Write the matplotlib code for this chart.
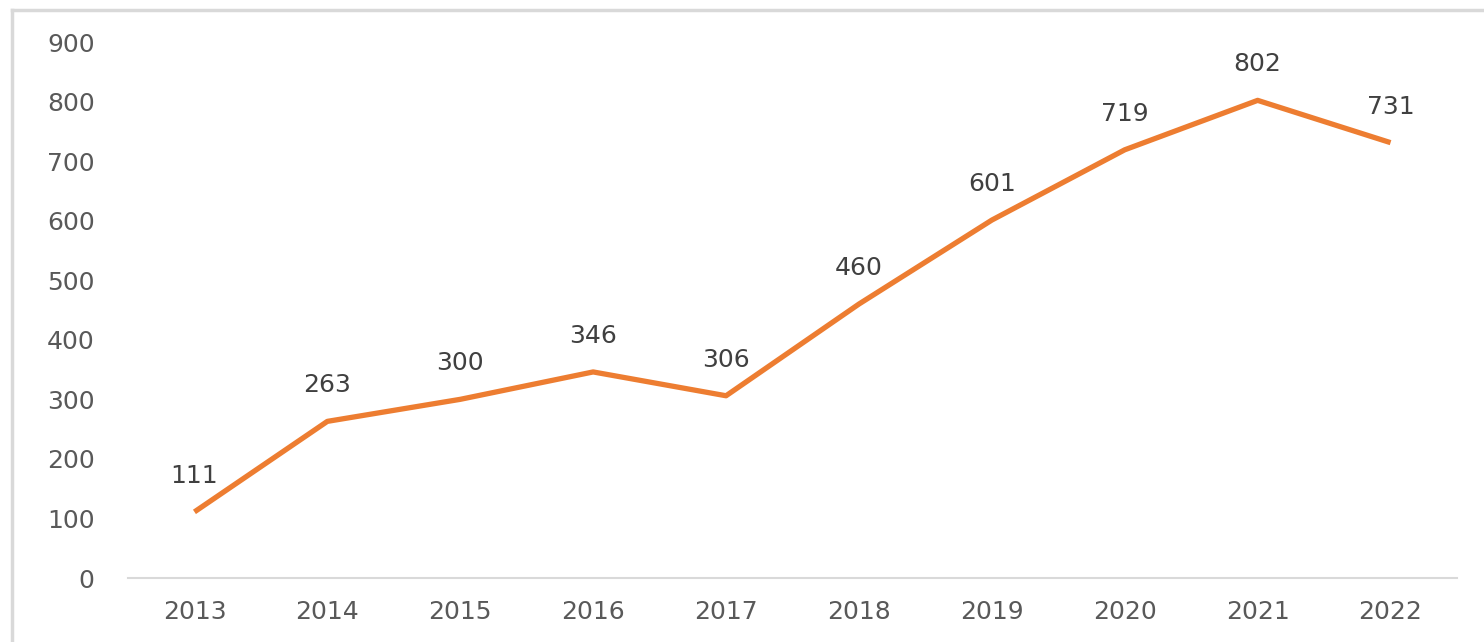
import matplotlib.pyplot as plt
from matplotlib.lines import Line2D

years = ['2013', '2014', '2015', '2016', '2017', '2018', '2019', '2020', '2021', '2022']
values = [111, 263, 300, 346, 306, 460, 601, 719, 802, 731]

plt.rcParams['font.family'] = ['DejaVu Sans']

fig = plt.figure(figsize=(14.84, 6.42), dpi=100)
ax = fig.add_axes([128/1484, 1-578/642, (1457-128)/1484, (578-42)/642])

x = list(range(len(years)))
ax.plot(x, values, color='#ED7D31', linewidth=3.8, solid_capstyle='butt')

for xi, v in zip(x, values):
    ax.annotate(str(v), (xi, v), xytext=(0, 26), textcoords='offset points',
                ha='center', va='center', fontsize=18, color='#404040')

ax.set_xlim(-0.5, len(years)-0.5)
ax.set_ylim(0, 900)
ax.set_yticks(range(0, 901, 100))
ax.set_xticks(x)
ax.set_xticklabels(years)
ax.tick_params(length=0, labelsize=18, labelcolor='#595959')
ax.tick_params(axis='y', pad=24)
ax.tick_params(axis='x', pad=16)
for s in ['top', 'right', 'left']:
    ax.spines[s].set_visible(False)
ax.spines['bottom'].set_color('#D9D9D9')
ax.spines['bottom'].set_linewidth(1.5)

# outer chart frame
fig.add_artist(Line2D([12/1484, 12/1484], [0, 1-10/642], color='#D9D9D9', linewidth=2.5, transform=fig.transFigure))
fig.add_artist(Line2D([12/1484, 1], [1-10/642, 1-10/642], color='#D9D9D9', linewidth=2.5, transform=fig.transFigure))

fig.savefig('out.png', dpi=100)
